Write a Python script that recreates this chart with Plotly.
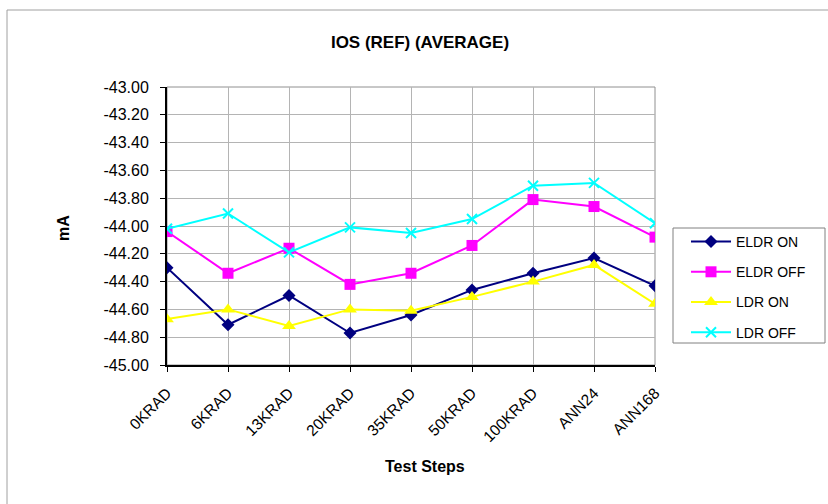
import plotly.graph_objects as go

categories = ["0KRAD", "6KRAD", "13KRAD", "20KRAD", "35KRAD", "50KRAD", "100KRAD", "ANN24", "ANN168"]
eldr_on = [-44.30, -44.71, -44.50, -44.77, -44.64, -44.46, -44.34, -44.23, -44.43]
eldr_off = [-44.04, -44.34, -44.16, -44.42, -44.34, -44.14, -43.81, -43.86, -44.08]
ldr_on = [-44.67, -44.60, -44.72, -44.60, -44.61, -44.51, -44.40, -44.28, -44.56]
ldr_off = [-44.02, -43.91, -44.19, -44.01, -44.05, -43.95, -43.71, -43.69, -43.98]
y_ticks = [-43.0, -43.2, -43.4, -43.6, -43.8, -44.0, -44.2, -44.4, -44.6, -44.8, -45.0]

FONT = "Liberation Sans, Arial, sans-serif"

series = [
    ("ELDR ON", eldr_on, "#000080", "diamond", 10),
    ("ELDR OFF", eldr_off, "#FF00FF", "square", 11),
    ("LDR ON", ldr_on, "#FFFF00", "triangle-up", 12),
    ("LDR OFF", ldr_off, "#00FFFF", "x-thin-open", 10),
]

fig = go.Figure()
for i, (name, vals, color, sym, size) in enumerate(series):
    fig.add_trace(go.Scatter(
        x=list(range(len(categories))), y=vals, name=name, mode="lines+markers",
        line=dict(color=color, width=2),
        marker=dict(symbol=sym, size=size, color=color, line=dict(color=color, width=2 if sym.startswith("x") else 0)),
        legendgroup=f"g{i}",
    ))

L, R, T, B = 167, 655, 87, 365
W, H = 828, 504
pw, ph = R - L, B - T

def px(x):
    return (x - L) / pw

def py(y):
    return (B - y) / ph

fig.update_layout(
    width=W, height=H,
    margin=dict(l=L, r=W - R, t=T, b=H - B, pad=0),
    paper_bgcolor="white", plot_bgcolor="white",
    font=dict(family=FONT, color="black", size=16),
    title=dict(text="<b>IOS (REF) (AVERAGE)</b>", font=dict(size=17, family=FONT),
               x=420 / W, xref="container", xanchor="center",
               y=1 - 42 / H, yref="container", yanchor="middle"),
    showlegend=True,
    legend=dict(x=px(686), y=py(226), xanchor="left", yanchor="top",
                bgcolor="rgba(0,0,0,0)", borderwidth=0,
                font=dict(size=14, family=FONT), tracegroupgap=9,
                traceorder="grouped", itemwidth=40),
    xaxis=dict(
        range=[0, len(categories) - 1], tickmode="array",
        tickvals=list(range(len(categories))), ticktext=categories,
        tickangle=-45, ticks="outside", ticklen=5, tickcolor="black",
        showline=True, linecolor="black", linewidth=2, mirror=False,
        showgrid=True, gridcolor="#b4b4b4", gridwidth=1, zeroline=False,
        tickfont=dict(size=15.5, family=FONT), ticklabelstandoff=6,
    ),
    yaxis=dict(
        range=[-45.0, -43.0], tickmode="array", tickvals=y_ticks,
        ticktext=[f"{v:.2f}" for v in y_ticks],
        ticks="outside", ticklen=5, tickcolor="black",
        showline=True, linecolor="black", linewidth=2,
        showgrid=True, gridcolor="#b4b4b4", gridwidth=1, zeroline=False,
        tickfont=dict(size=16, family=FONT), ticklabelstandoff=8,
    ),
    shapes=[
        dict(type="rect", xref="paper", yref="paper", x0=0, x1=1, y0=0, y1=1,
             line=dict(color="#909090", width=1), layer="below"),
        dict(type="rect", xref="paper", yref="paper", x0=px(7), x1=px(840), y0=py(520), y1=py(10),
             line=dict(color="#a0a0a0", width=1), layer="below"),
        dict(type="rect", xref="paper", yref="paper", x0=px(673), x1=px(825), y0=py(343), y1=py(228),
             line=dict(color="#808080", width=1), fillcolor="white", layer="below"),
    ],
    annotations=[
        dict(text="<b>Test Steps</b>", xref="paper", yref="paper", x=px(425), y=py(466),
             xanchor="center", yanchor="middle", showarrow=False, font=dict(size=16, family=FONT)),
        dict(text="<b>mA</b>", xref="paper", yref="paper", x=px(63), y=py(228),
             xanchor="center", yanchor="middle", showarrow=False, textangle=-90,
             font=dict(size=16, family=FONT)),
    ],
)

fig.write_html("out.html", config={"displayModeBar": False},
               post_script="document.body.style.margin='0';")
